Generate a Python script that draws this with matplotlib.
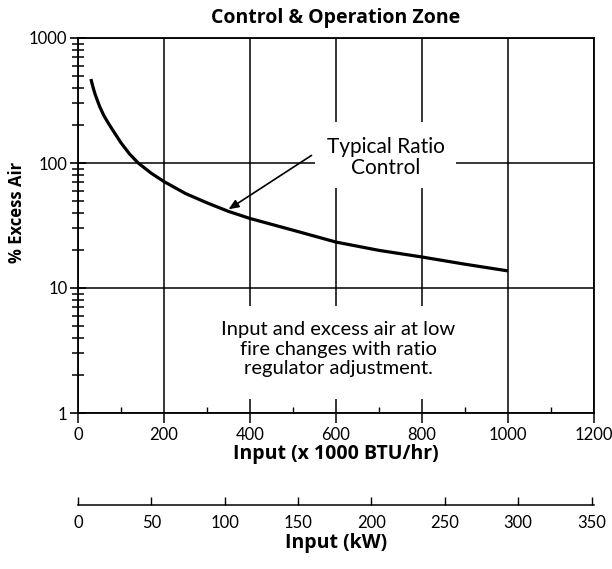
import matplotlib
matplotlib.use('Agg')
import matplotlib.pyplot as plt
from matplotlib.patches import Rectangle
from matplotlib.ticker import FixedLocator, LogLocator, NullFormatter, FixedFormatter

# ---- data ----
input_kbtu = [30, 35, 40, 50, 60, 70, 80, 100, 120, 140, 170, 200, 250, 300,
              350, 400, 500, 600, 700, 800, 900, 1000]
excess_air = [470, 403, 353, 285, 240, 210, 185, 145, 118, 100, 83, 71, 57, 48,
              41, 36, 29, 23.3, 20, 17.7, 15.5, 13.7]
x_ticks = [0, 200, 400, 600, 800, 1000, 1200]
x_minor_ticks = [100, 300, 500, 700, 900, 1100]
y_ticks = [1, 10, 100, 1000]
y_tick_labels = ['1', '10', '100', '1000']
kw_ticks = [0, 50, 100, 150, 200, 250, 300, 350]
KW_TO_KBTU = 3.412

plt.rcParams['font.family'] = ['Lato', 'DejaVu Sans']
BOLD = ['Open Sans', 'DejaVu Sans']

W, H = 612, 569
fig = plt.figure(figsize=(W / 100, H / 100), dpi=100)
left, right, top, bottom = 78, 594, 38, 413
ax = fig.add_axes([left / W, 1 - bottom / H, (right - left) / W, (bottom - top) / H])

ax.set_yscale('log')
ax.set_xlim(0, 1200)
ax.set_ylim(1, 1000)

# grid
ax.grid(True, which='major', color='black', lw=1.1, zorder=1)
for s in ax.spines.values():
    s.set_linewidth(1.3)
    s.set_color('black')

# white boxes behind the annotation texts (gridlines are broken there)
ax.add_patch(Rectangle((552, 63), 878 - 552, 213 - 63, facecolor='white',
                       edgecolor='none', zorder=2))
ax.add_patch(Rectangle((290, 1.29), 920 - 290, 7.2 - 1.29, facecolor='white',
                       edgecolor='none', zorder=2))

# curve
ax.plot(input_kbtu, excess_air, color='black', lw=2.3, zorder=4,
        solid_capstyle='butt', solid_joinstyle='round')

# ticks
ax.xaxis.set_major_locator(FixedLocator(x_ticks))
ax.xaxis.set_minor_locator(FixedLocator(x_minor_ticks))
ax.yaxis.set_major_locator(FixedLocator(y_ticks))
ax.yaxis.set_major_formatter(FixedFormatter(y_tick_labels))
ax.yaxis.set_minor_locator(LogLocator(base=10, subs=range(2, 10)))
ax.yaxis.set_minor_formatter(NullFormatter())
ax.tick_params(axis='y', which='major', direction='inout', length=11, width=1.2,
               labelsize=12, pad=2)
ax.tick_params(axis='y', which='minor', direction='inout', length=8, width=1.1)
ax.tick_params(axis='x', which='major', direction='out', length=7, width=1.1,
               labelsize=12, pad=3)
ax.tick_params(axis='x', which='minor', direction='in', length=4, width=1.0)

ax.set_xlabel('Input (x 1000 BTU/hr)', fontsize=14, fontweight='bold',
              family=BOLD, labelpad=1)
ax.set_ylabel('% Excess Air', fontsize=12, fontweight='bold', family=BOLD)
ax.yaxis.set_label_coords((26 - left) / (right - left), (bottom - 212) / (bottom - top))
ax.set_title('Control & Operation Zone', fontsize=14, fontweight='bold',
             family=BOLD, pad=11)

# annotations
ax.text(716, 110, 'Typical Ratio\nControl', ha='center', va='center',
        fontsize=15, linespacing=1.05, zorder=5)
ax.annotate('', xy=(350, 42.6), xytext=(543, 115), zorder=5,
            arrowprops=dict(arrowstyle='-|>,head_length=0.6,head_width=0.25',
                            color='black', lw=1.2, shrinkA=0, shrinkB=0))
ax.text(605, 3.25, 'Input and excess air at low\nfire changes with ratio\nregulator adjustment.',
        ha='center', va='center', fontsize=14.5, linespacing=1.15, zorder=5)

# secondary kW axis
sec = ax.secondary_xaxis(-0.245, functions=(lambda x: x / KW_TO_KBTU,
                                            lambda x: x * KW_TO_KBTU))
sec.set_xticks(kw_ticks)
sec.tick_params(direction='in', length=6, width=1.0, labelsize=12, pad=7)
sec.spines['bottom'].set_linewidth(1.1)
sec.set_xlabel('Input (kW)', fontsize=14, fontweight='bold', family=BOLD,
               labelpad=2)

fig.savefig('out.png', dpi=100)
